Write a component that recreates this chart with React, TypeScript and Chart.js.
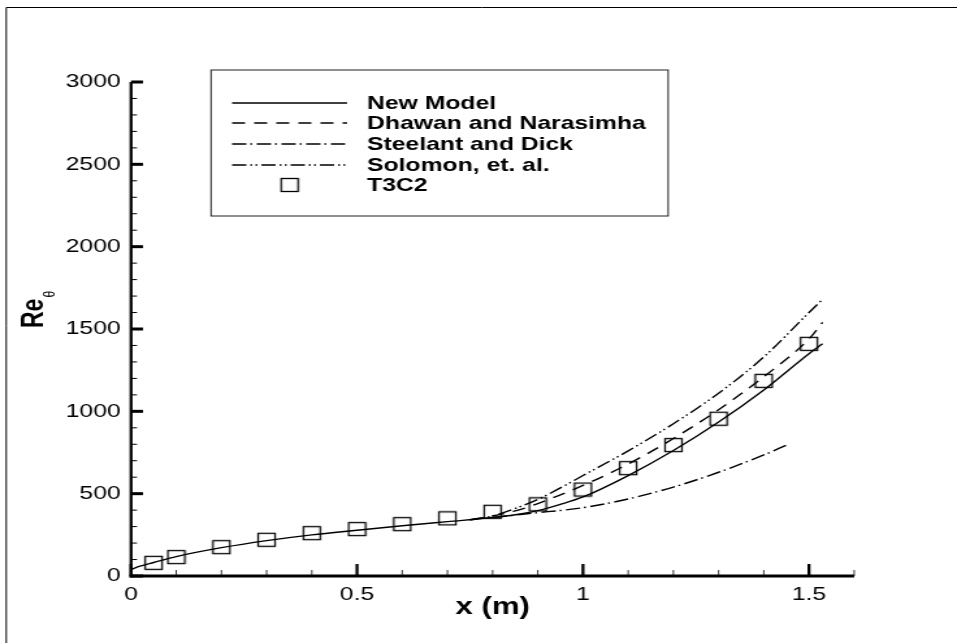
import React, { useEffect, useRef } from 'react';
import { Chart, registerables } from 'chart.js';

Chart.register(...registerables);

// ---------- data ----------
const X_MIN = 0;
const X_MAX = 1.6;
const Y_MIN = 0;
const Y_MAX = 3000;
const X_TICKS = [0, 0.5, 1, 1.5];
const X_TICK_LABELS = ['0', '0.5', '1', '1.5'];
const Y_TICKS = [0, 500, 1000, 1500, 2000, 2500, 3000];
const Y_TICK_LABELS = ['0', '500', '1000', '1500', '2000', '2500', '3000'];
const X_TITLE = 'x (m)';
const Y_TITLE_MAIN = 'Re';
const Y_TITLE_SUB = 'θ';

const SERIES_LABELS = ['New Model', 'Dhawan and Narasimha', 'Steelant and Dick', 'Solomon, et. al.', 'T3C2'];

const newModelX = [0, 0.02, 0.05, 0.1, 0.2, 0.3, 0.4, 0.5, 0.6, 0.7, 0.8, 0.85, 0.9, 0.95, 1.0, 1.1, 1.2, 1.3, 1.4, 1.5, 1.53];
const newModelY = [40, 60, 82, 118, 172, 215, 250, 278, 305, 330, 355, 372, 397, 435, 480, 610, 762, 935, 1130, 1350, 1410];

const dhawanX = [0.75, 0.8, 0.85, 0.9, 1.0, 1.1, 1.2, 1.3, 1.4, 1.5, 1.53];
const dhawanY = [342, 365, 395, 440, 550, 680, 835, 1010, 1210, 1440, 1540];

const steelantX = [0.8, 0.85, 0.9, 0.95, 1.0, 1.1, 1.2, 1.3, 1.4, 1.45];
const steelantY = [355, 370, 385, 398, 415, 468, 540, 630, 735, 795];

const solomonX = [0.75, 0.8, 0.85, 0.9, 0.95, 1.0, 1.1, 1.2, 1.3, 1.4, 1.5, 1.53];
const solomonY = [340, 365, 410, 465, 535, 610, 760, 925, 1110, 1330, 1600, 1680];

const t3c2X = [0.05, 0.1, 0.2, 0.3, 0.4, 0.5, 0.6, 0.7, 0.8, 0.9, 1.0, 1.1, 1.2, 1.3, 1.4, 1.5];
const t3c2Y = [80, 115, 175, 220, 260, 285, 315, 350, 390, 435, 525, 655, 795, 955, 1185, 1410];

// ---------- layout (canvas drawn narrower, then stretched horizontally) ----------
const STRETCH = 1.3;
const CSS_W = 957;
const CSS_H = 643;
const W = Math.round(CSS_W / STRETCH);
const H = CSS_H;
const AREA_LEFT = 131 / STRETCH;
const AREA_RIGHT = 854 / STRETCH;
const AREA_TOP = 82;
const AREA_BOTTOM = 576;

const FONT = "'Liberation Sans', Arial, Helvetica, sans-serif";

const DASH_SOLID: number[] = [];
const DASH_DHAWAN = [10, 7];
const DASH_STEELANT = [11, 3, 1.5, 3.5];
const DASH_SOLOMON = [11, 3, 1.5, 2.5, 1.5, 3];

const zip = (xs: number[], ys: number[]) => xs.map((x, i) => ({ x, y: ys[i] }));

function makeMarker(): HTMLCanvasElement {
  const c = document.createElement('canvas');
  c.width = 16;
  c.height = 16;
  const g = c.getContext('2d')!;
  g.strokeStyle = '#000';
  g.lineWidth = 1.3;
  g.strokeRect(1.5, 1.5, 13, 13);
  return c;
}

export default function App() {
  const ref = useRef<HTMLCanvasElement | null>(null);

  useEffect(() => {
    if (!ref.current) return;
    const marker = makeMarker();

    const lineDs = (label: string, xs: number[], ys: number[], dash: number[]) => ({
      label,
      data: zip(xs, ys),
      showLine: true,
      borderColor: '#000',
      borderWidth: 1.4,
      borderDash: dash,
      pointRadius: 0,
      pointHoverRadius: 0,
      cubicInterpolationMode: 'monotone' as const,
      fill: false,
    });

    const decor = {
      id: 'decor',
      afterDatasetsDraw(chart: any) {
        const ctx: CanvasRenderingContext2D = chart.ctx;
        const xs = chart.scales.x;
        const ys = chart.scales.y;
        const line = (a: number, b: number, c: number, d: number) => {
          ctx.beginPath();
          ctx.moveTo(a, b);
          ctx.lineTo(c, d);
          ctx.stroke();
        };
        ctx.save();
        ctx.strokeStyle = '#000';
        ctx.fillStyle = '#000';
        ctx.setLineDash([]);

        // outer frame (top & left)
        ctx.lineWidth = 1;
        ctx.beginPath();
        ctx.moveTo(4.8, H);
        ctx.lineTo(4.8, 7.5);
        ctx.lineTo(W, 7.5);
        ctx.stroke();

        const x0 = xs.getPixelForValue(X_MIN);
        const x1 = xs.getPixelForValue(X_MAX);
        const y0 = ys.getPixelForValue(Y_MIN);
        const y1 = ys.getPixelForValue(Y_MAX);

        // axes
        ctx.lineWidth = 3;
        line(x0 - 1.2, y0, x1, y0);
        ctx.lineWidth = 2.3;
        line(x0, y0 + 1.5, x0, y1);

        // x ticks (inward)
        for (let i = 0; i <= Math.round(X_MAX * 10); i++) {
          const v = i / 10;
          const px = xs.getPixelForValue(v);
          const major = X_TICKS.some((t) => Math.abs(t - v) < 1e-6);
          ctx.lineWidth = major ? 2.3 : 0.8;
          line(px, y0, px, y0 - (major ? 12 : 6));
        }
        // y ticks (inward)
        for (let v = Y_MIN; v <= Y_MAX; v += 100) {
          const py = ys.getPixelForValue(v);
          const major = Y_TICKS.includes(v);
          ctx.lineWidth = major ? 3 : 1;
          line(x0, py, x0 + (major ? 9.2 : 4.6), py);
        }

        // axis titles
        ctx.textAlign = 'center';
        ctx.textBaseline = 'middle';
        ctx.font = `bold 24px ${FONT}`;
        ctx.fillText(X_TITLE, (x0 + x1) / 2, 607);

        ctx.save();
        ctx.translate(33, 328);
        ctx.rotate(-Math.PI / 2);
        ctx.textAlign = 'left';
        ctx.textBaseline = 'alphabetic';
        ctx.font = `bold 23px ${FONT}`;
        ctx.fillText(Y_TITLE_MAIN, 0, 0);
        const wMain = ctx.measureText(Y_TITLE_MAIN).width;
        ctx.font = `12px ${FONT}`;
        ctx.fillText(Y_TITLE_SUB, wMain + 1, 9);
        ctx.restore();

        // legend
        const lx = 211 / STRETCH;
        const ly = 70;
        const lw = (668 - 211) / STRETCH;
        const lh = 216 - 70;
        ctx.fillStyle = '#fff';
        ctx.fillRect(lx, ly, lw, lh);
        ctx.fillStyle = '#000';
        ctx.strokeStyle = '#222';
        ctx.lineWidth = 1;
        ctx.strokeRect(lx, ly, lw, lh);

        const rows = [103, 123, 144, 165, 185];
        const sx0 = 232 / STRETCH;
        const sx1 = 347 / STRETCH;
        const tx = 367 / STRETCH;
        ctx.font = `bold 19px ${FONT}`;
        ctx.textAlign = 'left';
        ctx.textBaseline = 'middle';
        chart.data.datasets.forEach((ds: any, i: number) => {
          const ry = rows[i];
          ctx.strokeStyle = '#000';
          if (ds.showLine) {
            ctx.lineWidth = 1.4;
            ctx.setLineDash(ds.borderDash || []);
            line(sx0, ry, sx1, ry);
            ctx.setLineDash([]);
          } else {
            ctx.drawImage(marker, (sx0 + sx1) / 2 - marker.width / 2, ry - marker.height / 2);
          }
          ctx.fillText(ds.label, tx, ry + 1);
        });

        ctx.restore();
      },
    };

    const chart = new Chart(ref.current, {
      type: 'scatter',
      data: {
        datasets: [
          lineDs(SERIES_LABELS[0], newModelX, newModelY, DASH_SOLID),
          lineDs(SERIES_LABELS[1], dhawanX, dhawanY, DASH_DHAWAN),
          lineDs(SERIES_LABELS[2], steelantX, steelantY, DASH_STEELANT),
          lineDs(SERIES_LABELS[3], solomonX, solomonY, DASH_SOLOMON),
          {
            label: SERIES_LABELS[4],
            data: zip(t3c2X, t3c2Y),
            showLine: false,
            pointStyle: marker,
            pointRadius: 7,
            borderColor: '#000',
            backgroundColor: 'rgba(0,0,0,0)',
          } as any,
        ],
      },
      options: {
        animation: false,
        responsive: false,
        devicePixelRatio: 1,
        events: [],
        layout: {
          padding: { left: 0, top: AREA_TOP, right: W - AREA_RIGHT, bottom: 0 },
        },
        plugins: {
          legend: { display: false },
          tooltip: { enabled: false },
          title: { display: false },
        },
        scales: {
          x: {
            type: 'linear',
            min: X_MIN,
            max: X_MAX,
            grid: { display: false, drawTicks: false },
            border: { display: false },
            afterBuildTicks: (s: any) => {
              s.ticks = X_TICKS.map((v) => ({ value: v }));
            },
            afterFit: (s: any) => {
              s.height = H - AREA_BOTTOM;
            },
            ticks: {
              color: '#000',
              padding: 7,
              maxRotation: 0,
              autoSkip: false,
              font: { family: FONT, size: 19 },
              callback: (v: any) => {
                const i = X_TICKS.findIndex((t) => Math.abs(t - Number(v)) < 1e-6);
                return i >= 0 ? X_TICK_LABELS[i] : '';
              },
            },
          },
          y: {
            type: 'linear',
            min: Y_MIN,
            max: Y_MAX,
            grid: { display: false, drawTicks: false },
            border: { display: false },
            afterBuildTicks: (s: any) => {
              s.ticks = Y_TICKS.map((v) => ({ value: v }));
            },
            afterFit: (s: any) => {
              s.width = AREA_LEFT;
            },
            ticks: {
              color: '#000',
              padding: 8,
              autoSkip: false,
              font: { family: FONT, size: 19 },
              callback: (v: any) => {
                const i = Y_TICKS.indexOf(Number(v));
                return i >= 0 ? Y_TICK_LABELS[i] : '';
              },
            },
          },
        },
      },
      plugins: [decor],
    });

    return () => chart.destroy();
  }, []);

  return (
    <canvas
      ref={ref}
      width={W}
      height={H}
      style={{ position: 'fixed', left: 0, top: 0, width: `${CSS_W}px`, height: `${CSS_H}px` }}
    />
  );
}
